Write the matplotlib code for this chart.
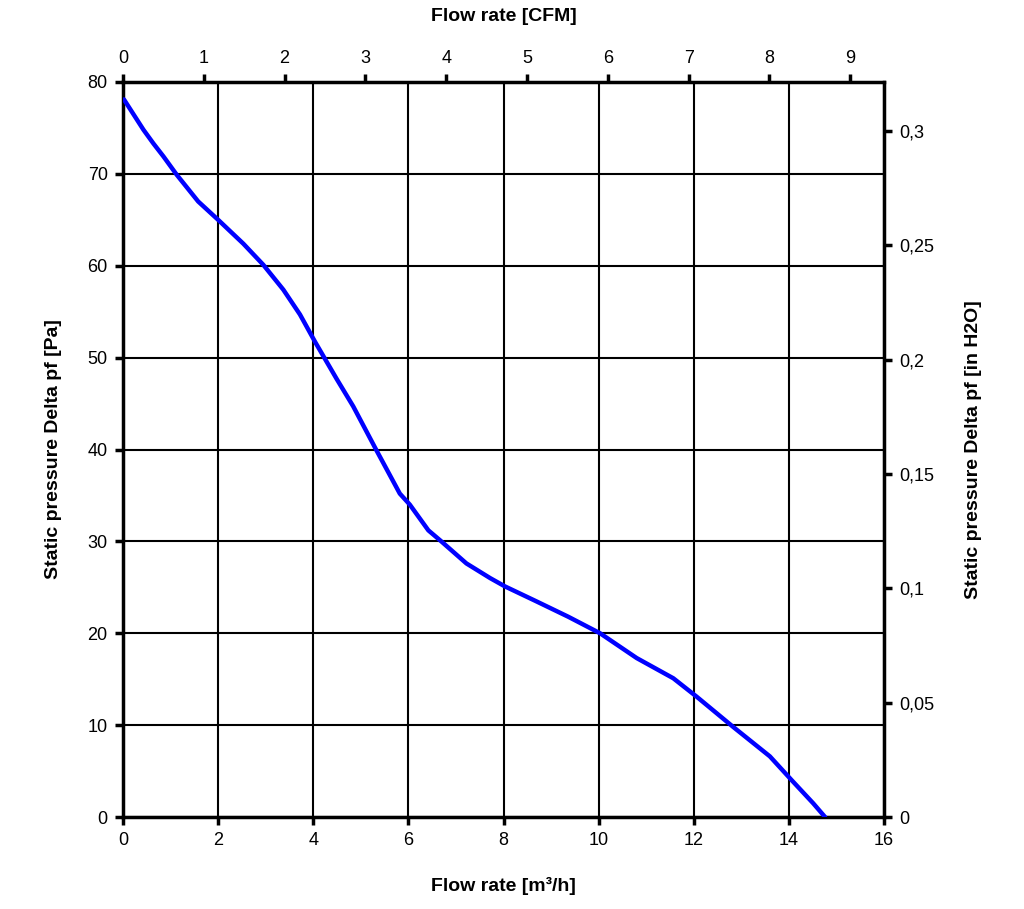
import matplotlib
matplotlib.use("Agg")
import matplotlib.pyplot as plt
from matplotlib.ticker import FuncFormatter

plt.rcParams['font.family'] = ['Liberation Sans', 'DejaVu Sans']

flow_m3h = [0.02, 0.43, 0.64, 0.85, 1.13, 1.58, 2.0, 2.53, 2.95, 3.37, 3.72, 4.04, 4.49,
            4.84, 5.33, 5.82, 6.03, 6.42, 6.67, 7.22, 7.72, 8.03, 8.68, 9.36, 10.03,
            10.8, 11.57, 12.06, 12.83, 13.6, 14.06, 14.51, 14.76]
pressure_pa = [78.1, 74.8, 73.3, 71.9, 69.9, 67.0, 65.0, 62.4, 60.1, 57.4, 54.7, 51.7, 47.7,
               44.7, 39.9, 35.2, 34.0, 31.2, 30.1, 27.6, 26.0, 25.1, 23.5, 21.8, 20.0,
               17.3, 15.1, 13.1, 9.8, 6.6, 4.0, 1.5, 0.0]

x_ticks = [0, 2, 4, 6, 8, 10, 12, 14, 16]
y_ticks = [0, 10, 20, 30, 40, 50, 60, 70, 80]
cfm_ticks = [0, 1, 2, 3, 4, 5, 6, 7, 8, 9]
inh2o_ticks = [0, 0.05, 0.1, 0.15, 0.2, 0.25, 0.3]

M3H_TO_CFM = 0.588578
PA_TO_INH2O = 0.00401865

fig = plt.figure(figsize=(10.24, 9.09), dpi=100)
ax = fig.add_axes([123/1024, 1-817/909, (884-123)/1024, (817-82)/909])

ax.plot(flow_m3h, pressure_pa, color='#0000ff', lw=3.2, solid_capstyle='round',
        solid_joinstyle='round', zorder=3)
ax.set_xlim(0, 16)
ax.set_ylim(0, 80)
ax.set_xticks(x_ticks)
ax.set_yticks(y_ticks)
ax.grid(True, color='black', lw=1.5)
for s in ax.spines.values():
    s.set_linewidth(2.5)
ax.tick_params(direction='out', length=6, width=2.5, labelsize=13, pad=5)

ax.set_xlabel('Flow rate [m³/h]', fontsize=14, fontweight='bold', labelpad=20)
ax.set_ylabel('Static pressure Delta pf [Pa]', fontsize=14, fontweight='bold', labelpad=18)

top = ax.secondary_xaxis('top', functions=(lambda v: v*M3H_TO_CFM, lambda v: v/M3H_TO_CFM))
top.set_xticks(cfm_ticks)
top.tick_params(direction='out', length=6, width=2.5, labelsize=13, pad=5)
top.set_xlabel('Flow rate [CFM]', fontsize=14, fontweight='bold', labelpad=21)

right = ax.secondary_yaxis('right', functions=(lambda v: v*PA_TO_INH2O, lambda v: v/PA_TO_INH2O))
right.set_yticks(inh2o_ticks)
right.yaxis.set_major_formatter(FuncFormatter(lambda v, p: ('%g' % round(v, 2)).replace('.', ',')))
right.tick_params(direction='out', length=6, width=2.5, labelsize=13, pad=5)
right.set_ylabel('Static pressure Delta pf [in H2O]', fontsize=14, fontweight='bold', labelpad=22)

fig.savefig('out.png', dpi=100, facecolor='white')
